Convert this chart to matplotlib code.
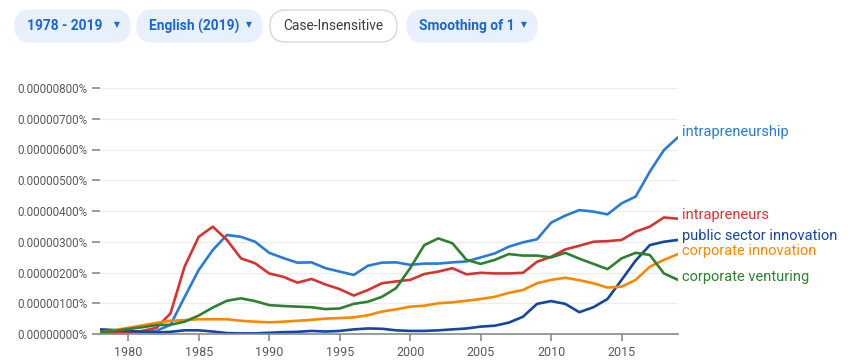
import numpy as np
import matplotlib.pyplot as plt
from matplotlib.patches import FancyBboxPatch
from matplotlib.ticker import FuncFormatter

plt.rcParams['font.family'] = ['Roboto', 'DejaVu Sans']

# %%
years = list(range(1978, 2020))

# values in units of 0.000001 %
intrapreneurship = [0.12, 0.09, 0.07, 0.07, 0.1, 0.3, 1.2, 2.08, 2.73, 3.22, 3.16, 3.0,
                    2.64, 2.47, 2.32, 2.33, 2.14, 2.03, 1.92, 2.22, 2.32, 2.33, 2.25, 2.29,
                    2.29, 2.33, 2.36, 2.49, 2.62, 2.84, 2.98, 3.08, 3.62, 3.85, 4.03, 3.98,
                    3.89, 4.25, 4.47, 5.28, 5.98, 6.4]
intrapreneurs = [0.0, 0.02, 0.05, 0.1, 0.2, 0.67, 2.19, 3.16, 3.49, 3.06, 2.46, 2.3,
                 1.97, 1.86, 1.67, 1.79, 1.61, 1.46, 1.25, 1.43, 1.65, 1.71, 1.76, 1.95,
                 2.03, 2.14, 1.94, 1.99, 1.97, 1.97, 1.99, 2.35, 2.51, 2.75, 2.87, 3.0,
                 3.02, 3.06, 3.33, 3.49, 3.79, 3.75]
public_sector = [0.15, 0.13, 0.1, 0.07, 0.05, 0.07, 0.12, 0.12, 0.08, 0.03, 0.02, 0.02,
                 0.04, 0.06, 0.07, 0.1, 0.08, 0.1, 0.15, 0.18, 0.17, 0.12, 0.1, 0.1,
                 0.12, 0.15, 0.18, 0.24, 0.27, 0.37, 0.56, 0.98, 1.07, 0.98, 0.71, 0.87,
                 1.14, 1.76, 2.39, 2.89, 3.0, 3.06]
corp_innovation = [0.05, 0.12, 0.2, 0.28, 0.36, 0.43, 0.45, 0.48, 0.48, 0.48, 0.43, 0.4,
                   0.38, 0.4, 0.43, 0.46, 0.5, 0.52, 0.54, 0.61, 0.73, 0.8, 0.89, 0.92,
                   1.0, 1.03, 1.08, 1.14, 1.21, 1.34, 1.43, 1.65, 1.76, 1.83, 1.75, 1.65,
                   1.51, 1.54, 1.76, 2.19, 2.41, 2.6]
corp_venturing = [0.04, 0.1, 0.16, 0.22, 0.29, 0.3, 0.4, 0.6, 0.86, 1.08, 1.16, 1.07,
                  0.94, 0.91, 0.89, 0.87, 0.81, 0.83, 0.98, 1.05, 1.21, 1.49, 2.14, 2.89,
                  3.11, 2.95, 2.41, 2.28, 2.41, 2.6, 2.55, 2.55, 2.49, 2.64, 2.45, 2.28,
                  2.11, 2.46, 2.64, 2.57, 1.97, 1.76]

series = [
    ('intrapreneurship', intrapreneurship, '#2a7ad8', 6.57),
    ('intrapreneurs', intrapreneurs, '#d63333', 3.87),
    ('public sector innovation', public_sector, '#1546a0', 3.19),
    ('corporate innovation', corp_innovation, '#f98800', 2.70),
    ('corporate venturing', corp_venturing, '#2f8030', 1.85),
]

fig = plt.figure(figsize=(8.53, 3.63), dpi=100)
ax = fig.add_axes([100 / 853, 1 - 334 / 363, 578 / 853, 246 / 363])

for name, vals, color, label_y in series:
    ax.plot(years, vals, color=color, lw=1.9, solid_joinstyle='round', solid_capstyle='round')
    ax.text(2019.3, label_y, name, color=color, fontsize=10.5, va='center', ha='left',
            clip_on=False)

ax.set_xlim(1978, 2019)
ax.set_ylim(0, 8)
ax.set_yticks(np.arange(0, 9, 1))
ax.yaxis.set_major_formatter(FuncFormatter(lambda v, p: f'{v * 1e-6:.8f}%'))
ax.set_xticks(np.arange(1980, 2016, 5))

ax.grid(axis='y', color='#ececec', lw=0.8)
ax.set_axisbelow(True)
for s in ['top', 'right', 'left']:
    ax.spines[s].set_visible(False)
ax.spines['bottom'].set_color('#8a8a8a')
ax.spines['bottom'].set_linewidth(1.2)
ax.tick_params(axis='y', length=6, width=1.2, color='#8a8a8a', labelcolor='#555a5f',
               labelsize=8.4, pad=3)
ax.tick_params(axis='x', length=5, width=1.2, color='#8a8a8a', labelcolor='#555a5f',
               labelsize=9, pad=4)

# top control buttons, drawn in pixel coordinates
top = fig.add_axes([0, 0, 1, 1], zorder=-1)
top.set_xlim(0, 853)
top.set_ylim(363, 0)
top.axis('off')
buttons = [
    (15, 130, '1978 - 2019', True),
    (137, 262, 'English (2019)', True),
    (270, 397, 'Case-Insensitive', False),
    (407, 537, 'Smoothing of 1', True),
]
for x0, x1, label, filled in buttons:
    y0, y1 = 10, 42
    box = FancyBboxPatch((x0, y0), x1 - x0, y1 - y0,
                         boxstyle='round,pad=0,rounding_size=16',
                         facecolor='#e8f0fe' if filled else 'white',
                         edgecolor='#e8f0fe' if filled else '#d5d7da', lw=1)
    top.add_patch(box)
    if filled:
        top.text(x0 + 12.5, (y0 + y1) / 2, label, color='#1967d2', fontsize=9.9,
                 fontweight='semibold', ha='left', va='center')
        top.text(x1 - 13, (y0 + y1) / 2 - 1, '\u25bc', color='#1967d2', fontsize=5.5,
                 ha='center', va='center', family='DejaVu Sans')
    else:
        top.text((x0 + x1) / 2, (y0 + y1) / 2, label, color='#3c4043', fontsize=9.9,
                 ha='center', va='center')

fig.savefig('out.png', dpi=100)
